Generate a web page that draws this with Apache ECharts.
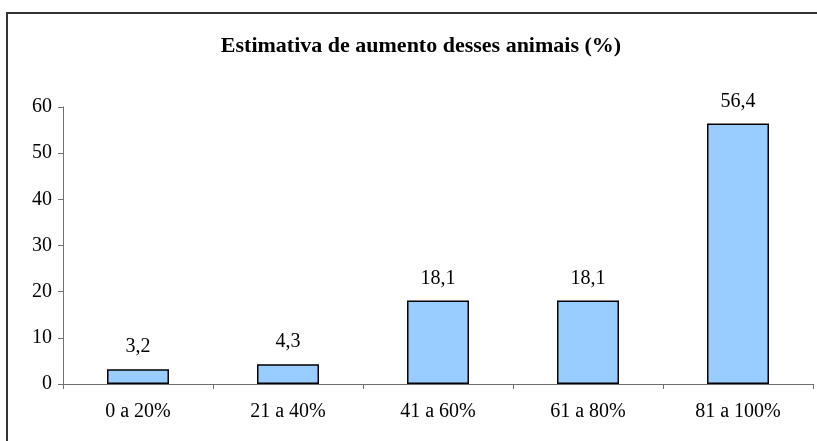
<!DOCTYPE html>
<html>
<head>
<meta charset="utf-8">
<script src="https://cdn.jsdelivr.net/npm/echarts@6/dist/echarts.min.js"></script>
<style>
  html, body { margin: 0; padding: 0; background: #fff; }
  #chart { width: 817px; height: 441px; }
</style>
</head>
<body>
<div id="chart"></div>
<script>
// Faixas de aumento estimado e percentual de respostas
const categories = ['0 a 20%', '21 a 40%', '41 a 60%', '61 a 80%', '81 a 100%'];
const values = [3.2, 4.3, 18.1, 18.1, 56.4];
const yTicks = [0, 10, 20, 30, 40, 50, 60];

const serif = '"Liberation Serif", "Times New Roman", serif';
const chart = echarts.init(document.getElementById('chart'), null, { renderer: 'canvas' });

chart.setOption({
  animation: false,
  backgroundColor: '#fff',
  title: {
    text: 'Estimativa de aumento desses animais (%)',
    left: 416,
    textAlign: 'center',
    top: 30,
    textStyle: { fontFamily: serif, fontWeight: 'bold', fontSize: 22, color: '#000' }
  },
  graphic: [{
    type: 'rect',
    shape: { x: 7, y: 13, width: 840, height: 460 },
    style: { fill: 'none', stroke: '#333', lineWidth: 2 },
    silent: true
  }],
  grid: { left: 63, right: 4, top: 107, bottom: 57 },
  xAxis: {
    type: 'category',
    data: categories,
    axisLine: { lineStyle: { color: '#707070', width: 1 } },
    axisTick: { show: true, length: 5, lineStyle: { color: '#707070' } },
    axisLabel: { fontFamily: serif, fontSize: 20, color: '#000', margin: 18 }
  },
  yAxis: {
    type: 'value',
    min: yTicks[0],
    max: yTicks[yTicks.length - 1],
    interval: 10,
    axisLine: { show: true, lineStyle: { color: '#707070', width: 1 } },
    axisTick: { show: true, length: 5, lineStyle: { color: '#707070' } },
    splitLine: { show: false },
    axisLabel: { fontFamily: serif, fontSize: 20, color: '#000', margin: 11 }
  },
  series: [{
    type: 'bar',
    data: values,
    barWidth: 62,
    itemStyle: { color: '#99CCFF', borderColor: '#000', borderWidth: 1.5 },
    label: {
      show: true,
      position: 'top',
      distance: 12,
      fontFamily: serif,
      fontSize: 20,
      color: '#000',
      formatter: p => String(p.value).replace('.', ',')
    }
  }]
});
</script>
</body>
</html>
